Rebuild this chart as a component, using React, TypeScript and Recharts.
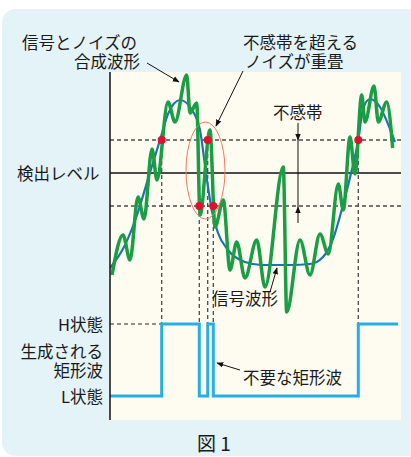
import { ComposedChart, Line, Scatter, XAxis, YAxis, ReferenceLine } from 'recharts'

// time axis (0..291) and signal level (detection level = 0, dead band = ±33)
const signalTimes = [0, 15, 28, 38, 50, 58, 70, 82, 90, 96, 101.7, 108, 118, 135, 152, 180, 200, 213, 223, 233, 243, 248, 253, 260, 270, 280, 285]
const signalValues = [-95, -72, -39, -6, 33, 59, 73, 63, 43, 0, -37, -60, -77, -89, -92, -92, -91, -84, -66, -32, 8, 31, 64, 74, 66, 44, 31]

const noisyTimes = [2, 13, 20, 28, 34, 42, 47, 58, 65, 76.7, 80, 86.7, 90, 100, 105, 113.3, 120, 126.7, 135, 146.7, 155, 173.3, 176.7, 190, 200, 210, 218.3, 228.3, 233.3, 240, 245, 251.7, 255, 264, 268.3, 276.7, 282.7]
const noisyValues = [-102, -62, -87, -24, -46, 24, -7, 71, 51, 98, 60, 70, -42, 43, -54, -27, -97, -69, -105, -67, -114, 6, -139, -67, -102, -61, -81, -11, -37, 36, -1, 78, 51, 87, 51, 71, 25]

const switchTimes = [0, 51.7, 89.3, 97.7, 103.3, 248.3, 288]
const switchStates = ['L', 'H', 'L', 'H', 'L', 'H', 'H']
const H_LEVEL = -151
const L_LEVEL = -223

const DEAD_BAND = 33
const crossTimes = [51.7, 89.3, 97.7, 103.3, 248.3]
const crossValues = [33, -33, 33, -33, 33]

const signal = signalTimes.map((t, i) => ({ t, v: signalValues[i] }))
const noisy = noisyTimes.map((t, i) => ({ t, v: noisyValues[i] }))
const square = switchTimes.map((t, i) => ({ t, v: switchStates[i] === 'H' ? H_LEVEL : L_LEVEL }))
const crossings = crossTimes.map((t, i) => ({ t, v: crossValues[i] }))

const FONT = '"Noto Sans CJK JP", "Noto Sans", sans-serif'
const DASH = '4 3'
const DASH_COLOR = '#4a4a4a'

function Labels() {
  const txt = { fontFamily: FONT, fontSize: 16.5, fill: '#1a1a1a' }
  return (
    <svg width={411} height={457} style={{ position: 'absolute', left: 0, top: 0, pointerEvents: 'none' }}>
      <defs>
        <marker id="ah" viewBox="0 0 10 10" refX="9" refY="5" markerWidth="7" markerHeight="7" orient="auto-start-reverse">
          <path d="M0,1 L10,5 L0,9 z" fill="#111" />
        </marker>
      </defs>
      <g style={txt} dominantBaseline="central">
        <text x={22} y={42}>信号とノイズの</text>
        <text x={140} y={61} textAnchor="end">合成波形</text>
        <text x={243} y={42}>不感帯を超える</text>
        <text x={245} y={61}>ノイズが重畳</text>
        <text x={273} y={112}>不感帯</text>
        <text x={17} y={173}>検出レベル</text>
        <text x={212} y={298}>信号波形</text>
        <text x={103} y={324} textAnchor="end">H状態</text>
        <text x={103} y={351} textAnchor="end">生成される</text>
        <text x={103} y={370} textAnchor="end">矩形波</text>
        <text x={103} y={396} textAnchor="end">L状態</text>
        <text x={243} y={377}>不要な矩形波</text>
        <text x={214} y={442} textAnchor="middle" fontSize={19}>図 1</text>
      </g>
      <ellipse cx={205.5} cy={170.5} rx={19.5} ry={48.5} fill="none" stroke="#ee7a5a" strokeWidth={1} />
      <g stroke="#111" strokeWidth={1}>
        <line x1={147} y1={63} x2={179} y2={82} markerEnd="url(#ah)" />
        <line x1={243} y1={71} x2={216} y2={126} markerEnd="url(#ah)" />
        <line x1={298} y1={123} x2={298} y2={140} markerEnd="url(#ah)" />
        <line x1={298} y1={140} x2={298} y2={207} />
        <line x1={298} y1={223} x2={298} y2={207} markerEnd="url(#ah)" />
        <line x1={270} y1={292} x2={277} y2={268} markerEnd="url(#ah)" />
        <line x1={240} y1={370} x2={217} y2={363} markerEnd="url(#ah)" />
      </g>
    </svg>
  )
}

export default function App() {
  return (
    <div style={{ position: 'absolute', left: 0, top: 0, width: 411, height: 457, background: '#fff', overflow: 'hidden' }}>
      <div style={{ position: 'absolute', left: 2, top: 9, width: 420, height: 447, borderRadius: 14, background: '#e3f3f8' }} />
      <div style={{ position: 'absolute', left: 110, top: 72, width: 291, height: 348, background: '#fefcf1' }} />
      <div style={{ position: 'absolute', left: 0, top: 0 }}>
        <ComposedChart width={411} height={457} margin={{ top: 72, right: 10, bottom: 37, left: 100 }}>
          <XAxis dataKey="t" type="number" domain={[0, 291]} allowDataOverflow hide />
          <YAxis
            type="number"
            domain={[-247, 101]}
            allowDataOverflow
            width={10}
            tick={false}
            tickLine={false}
            axisLine={{ stroke: '#111', strokeWidth: 1.5 }}
          />
          <ReferenceLine y={DEAD_BAND} stroke={DASH_COLOR} strokeDasharray={DASH} strokeWidth={1.3} />
          <ReferenceLine y={-DEAD_BAND} stroke={DASH_COLOR} strokeDasharray={DASH} strokeWidth={1.3} />
          <ReferenceLine y={0} stroke="#111" strokeWidth={1.5} />
          <ReferenceLine segment={[{ x: 0, y: H_LEVEL }, { x: crossTimes[0], y: H_LEVEL }]} stroke="#222" strokeDasharray={DASH} strokeWidth={1} />
          {crossings.map((c) => (
            <ReferenceLine
              key={c.t}
              segment={[{ x: c.t, y: c.v }, { x: c.t, y: H_LEVEL }]}
              stroke={DASH_COLOR}
              strokeDasharray={DASH}
              strokeWidth={1.3}
            />
          ))}
          <Line data={square} dataKey="v" type="stepAfter" stroke="#26aee6" strokeWidth={3} dot={false} isAnimationActive={false} />
          <Line data={signal} dataKey="v" type="monotone" stroke="#1c72b0" strokeWidth={2.2} dot={false} isAnimationActive={false} />
          <Line data={noisy} dataKey="v" type="monotone" stroke="#1a9d43" strokeWidth={3.5} dot={false} isAnimationActive={false} />
          <Scatter
            data={crossings}
            dataKey="v"
            fill="#e0102e"
            isAnimationActive={false}
            shape={(p: any) => <circle cx={p.cx} cy={p.cy} r={4} fill="#e0102e" />}
          />
        </ComposedChart>
      </div>
      <Labels />
    </div>
  )
}
